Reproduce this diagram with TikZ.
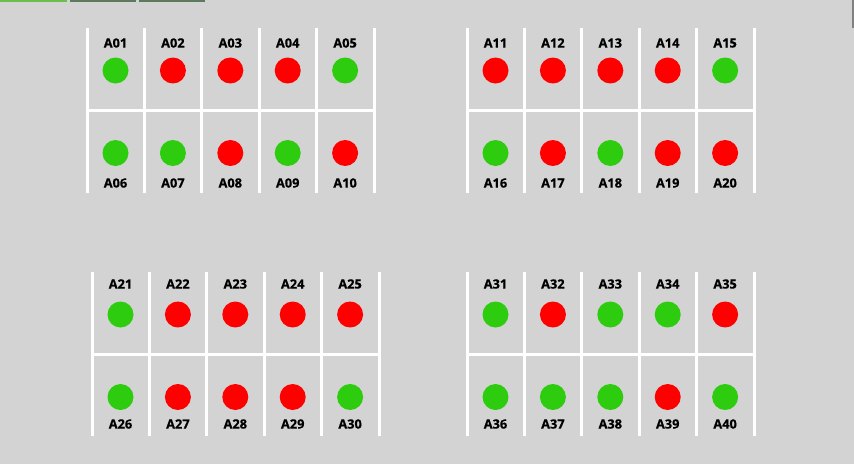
\documentclass[tikz,border=0pt]{standalone}
\usepackage{fontspec}
\setmainfont{Open Sans}
\newfontfamily\tagfont{Open Sans}[BoldFeatures={FakeBold=0.6}]
\definecolor{bg}{HTML}{D3D3D3}
\definecolor{ok}{HTML}{2ECC0E}
\definecolor{bad}{HTML}{FF0000}
\definecolor{tabon}{HTML}{6CBF4A}
\definecolor{taboff}{HTML}{5E7A5E}
\tikzset{
  sep/.style={white, line width=3pt},
  lamp/.style={circle, minimum size=26pt, inner sep=0pt, draw=none},
  tag/.style={font=\tagfont\fontsize{12.8}{14}\selectfont\bfseries, inner sep=0pt, anchor=center, text=black},
}
% #1 x0, #2 y0, #3 first index, #4 top label offset, #5 bottom label offset, #6 bottom end, #7 list
\newcommand\panel[7]{%
  \foreach \j in {0,...,5} {\draw[sep] (#1+\j*57.4, #2) -- (#1+\j*57.4, #2+#6);}
  \draw[sep] (#1, #2+82) -- (#1+287, #2+82);
  \foreach \k/\cl in {#7} {
    \pgfmathtruncatemacro\col{mod(\k-1,5)}
    \pgfmathtruncatemacro\row{(\k-1)/5}
    \pgfmathtruncatemacro\num{#3+\k}
    \pgfmathsetmacro\ly{#4+\row*(#5-#4)}
    \edef\lab{A\ifnum\num<10 0\fi\num}
    \node[lamp, fill=\cl] (c\num) at (#1+28.5+\col*57.4, #2+42.5+\row*82.5) {};
    \node[tag] (l\num) at (#1+28.5+\col*57.4, #2+\ly) {\lab};
  }%
}
\begin{document}
\begin{tikzpicture}[x=1pt,y=-1pt]
\fill[bg] (0,0) rectangle (854,464);
\useasboundingbox (0,0) rectangle (854,464);
\draw[tabon, line width=1.5pt] (0,0.75) -- (67,0.75);
\draw[taboff, line width=1.5pt] (70,0.75) -- (136,0.75);
\draw[taboff, line width=1.5pt] (139,0.75) -- (205,0.75);
\draw[gray, line width=2pt] (853,0) -- (853,28);
\panel{87}{28}{0}{15}{155}{165}{1/ok,2/bad,3/bad,4/bad,5/ok,6/ok,7/ok,8/bad,9/ok,10/bad}
\panel{467}{28}{10}{15}{155}{165}{1/bad,2/bad,3/bad,4/bad,5/ok,6/ok,7/bad,8/ok,9/bad,10/bad}
\panel{92}{272}{20}{12}{152}{164}{1/ok,2/bad,3/bad,4/bad,5/bad,6/ok,7/bad,8/bad,9/bad,10/ok}
\panel{467}{272}{30}{12}{152}{164}{1/ok,2/bad,3/ok,4/ok,5/bad,6/ok,7/ok,8/ok,9/bad,10/ok}
\end{tikzpicture}
\end{document}
